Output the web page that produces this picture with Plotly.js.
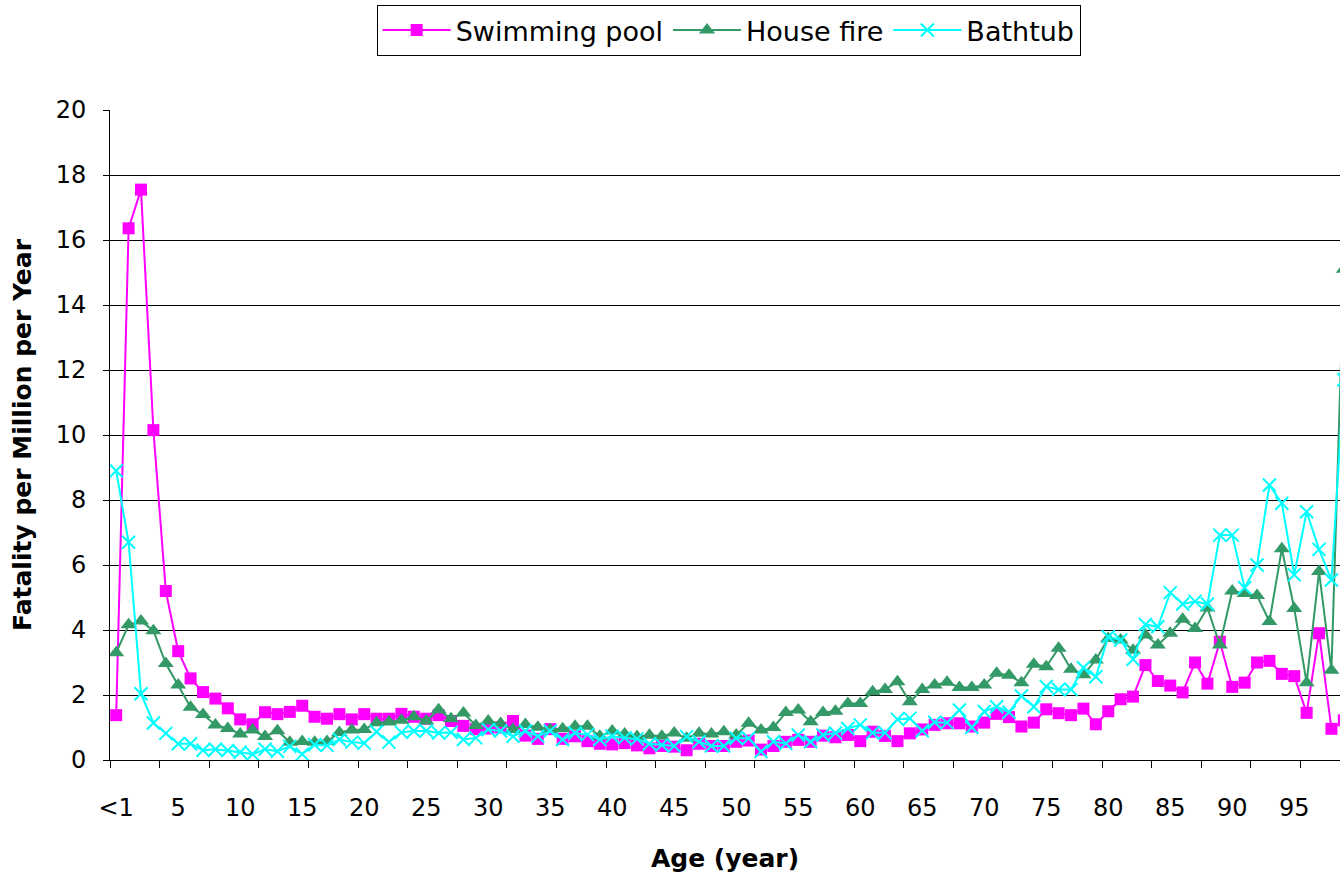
<!DOCTYPE html>
<html>
<head>
<meta charset="utf-8">
<script src="https://cdn.plot.ly/plotly-3.0.1.min.js"></script>
<style>
html,body{margin:0;padding:0;background:#fff;overflow:hidden;}
#chart{width:1340px;height:873px;}
</style>
</head>
<body>
<div id="chart"></div>
<script>
// Age index: 0 = "<1", then 1..99 years
const ages = [0,1,2,3,4,5,6,7,8,9,10,11,12,13,14,15,16,17,18,19,20,21,22,23,24,25,26,27,28,29,30,31,32,33,34,35,36,37,38,39,40,41,42,43,44,45,46,47,48,49,50,51,52,53,54,55,56,57,58,59,60,61,62,63,64,65,66,67,68,69,70,71,72,73,74,75,76,77,78,79,80,81,82,83,84,85,86,87,88,89,90,91,92,93,94,95,96,97,98,99];

const tickVals = [0,5,10,15,20,25,30,35,40,45,50,55,60,65,70,75,80,85,90,95];
const tickText = ["<1","5","10","15","20","25","30","35","40","45","50","55","60","65","70","75","80","85","90","95"];

const swimmingPool = [1.38,16.36,17.55,10.15,5.2,3.35,2.51,2.09,1.89,1.59,
  1.25,1.1,1.47,1.41,1.48,1.67,1.33,1.27,1.41,1.25,
  1.41,1.27,1.27,1.42,1.33,1.27,1.38,1.2,1.05,0.95,
  0.97,1.0,1.2,0.75,0.65,0.95,0.65,0.73,0.58,0.5,
  0.48,0.52,0.45,0.36,0.43,0.41,0.3,0.5,0.43,0.43,
  0.56,0.6,0.32,0.43,0.56,0.62,0.56,0.75,0.7,0.77,
  0.58,0.87,0.74,0.58,0.82,0.94,1.08,1.13,1.13,1.03,
  1.15,1.42,1.32,1.03,1.15,1.56,1.44,1.38,1.58,1.1,
  1.5,1.87,1.95,2.92,2.43,2.29,2.08,3.0,2.35,3.64,
  2.25,2.38,3.0,3.05,2.65,2.58,1.45,3.9,0.96,1.22];

const houseFire = [3.3,4.16,4.28,3.98,2.97,2.31,1.62,1.4,1.08,0.97,
  0.8,0.92,0.72,0.9,0.55,0.57,0.55,0.57,0.85,0.92,
  0.94,1.15,1.17,1.22,1.33,1.2,1.55,1.27,1.45,1.06,
  1.2,1.12,0.94,1.09,1.01,0.94,0.96,1.04,1.04,0.73,
  0.89,0.8,0.72,0.76,0.73,0.83,0.67,0.82,0.8,0.87,
  0.77,1.13,0.92,1.0,1.46,1.54,1.18,1.46,1.5,1.74,
  1.74,2.1,2.17,2.41,1.79,2.17,2.31,2.39,2.23,2.23,
  2.31,2.67,2.61,2.38,2.95,2.87,3.44,2.79,2.62,3.08,
  3.74,3.69,3.38,3.85,3.54,3.9,4.33,4.05,4.68,3.54,
  5.2,5.12,5.06,4.26,6.5,4.66,2.38,5.8,2.76,15.1];

const bathtub = [8.9,6.7,2.04,1.14,0.82,0.5,0.5,0.3,0.33,0.29,
  0.24,0.18,0.33,0.27,0.42,0.18,0.47,0.45,0.63,0.55,
  0.52,0.87,0.55,0.85,0.89,0.9,0.83,0.85,0.63,0.68,
  0.94,0.89,0.73,0.89,0.73,0.89,0.63,0.83,0.78,0.63,
  0.73,0.68,0.65,0.5,0.46,0.43,0.72,0.56,0.43,0.43,
  0.67,0.67,0.26,0.56,0.51,0.77,0.56,0.77,0.83,0.97,
  1.08,0.84,0.84,1.25,1.28,0.9,1.16,1.15,1.54,1.0,
  1.49,1.64,1.47,1.97,1.64,2.26,2.17,2.17,2.84,2.56,
  3.79,3.69,3.1,4.17,4.1,5.15,4.8,4.88,4.8,6.92,
  6.92,5.3,6.0,8.46,7.9,5.7,7.64,6.48,5.54,11.7];

const FONT = 'DejaVu Sans, Liberation Sans, Arial, sans-serif';

const traces = [
  {name:'Swimming pool', x:ages, y:swimmingPool, type:'scatter', mode:'lines+markers',
   line:{color:'#FF00FF', width:2},
   marker:{symbol:'square', size:12, color:'#FF00FF'}},
  {name:'House fire', x:ages, y:houseFire, type:'scatter', mode:'lines+markers',
   line:{color:'#339966', width:2},
   marker:{symbol:'triangle-up', size:14, color:'#339966'}},
  {name:'Bathtub', x:ages, y:bathtub, type:'scatter', mode:'lines+markers',
   line:{color:'#00FFFF', width:2},
   marker:{symbol:'x-thin-open', size:13, color:'#00FFFF', line:{color:'#00FFFF', width:2}}}
];

const layout = {
  width:1340, height:873,
  margin:{l:110, r:0, t:110, b:113},
  paper_bgcolor:'#fff', plot_bgcolor:'#fff',
  font:{family:FONT, size:24, color:'#000'},
  showlegend:true,
  legend:{orientation:'h', x:0.503, xanchor:'center', y:1.1615, yanchor:'top',
          bordercolor:'#000', borderwidth:1, bgcolor:'#fff', itemwidth:68,
          font:{family:FONT, size:27, color:'#000'}},
  xaxis:{
    type:'linear', range:[-0.5, 98.69],
    tickmode:'array', tickvals:tickVals, ticktext:tickText,
    ticks:'', showgrid:false, zeroline:false,
    showline:true, linecolor:'#000', linewidth:1,
    tickfont:{family:FONT, size:24, color:'#000'},
    ticklabelstandoff:26,
    minor:{tick0:-0.5, dtick:4, ticks:'outside', ticklen:7, tickcolor:'#000', tickwidth:1, showgrid:false},
    title:{text:'Age (year)', font:{family:FONT, size:25, color:'#000', weight:'bold'}, standoff:30}
  },
  yaxis:{
    range:[0,20], dtick:2, tick0:0,
    showgrid:true, gridcolor:'#000', gridwidth:1,
    zeroline:false, showline:true, linecolor:'#000', linewidth:1,
    ticks:'outside', ticklen:6, tickcolor:'#000',
    tickfont:{family:FONT, size:24, color:'#000'},
    ticklabelstandoff:12,
    title:{text:'Fatality per Million per Year', font:{family:FONT, size:25, color:'#000', weight:'bold'}, standoff:16}
  }
};

Plotly.newPlot('chart', traces, layout, {displayModeBar:false, staticPlot:true});
</script>
</body>
</html>
